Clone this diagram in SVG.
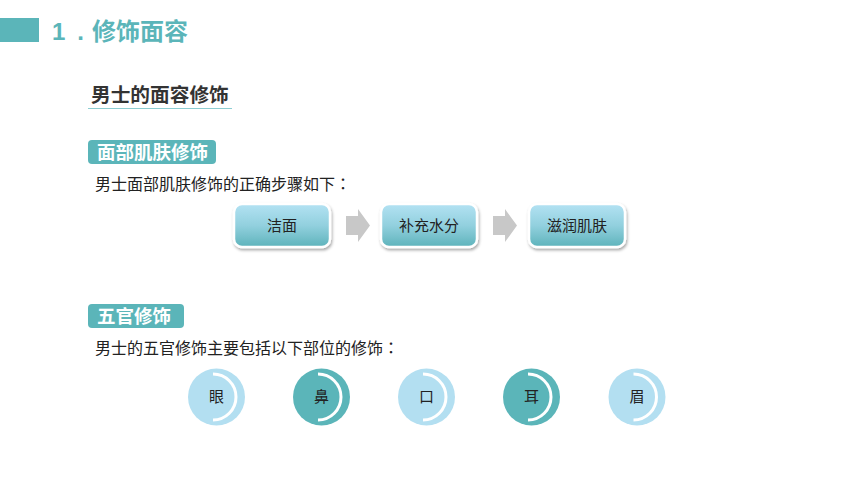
<svg xmlns="http://www.w3.org/2000/svg" width="860" height="484" viewBox="0 0 860 484">
<defs>
<style>
.cjk{font-family:"Liberation Sans","Noto Sans CJK SC",sans-serif}
.tc{font-family:"Noto Sans CJK TC",sans-serif}
.title{font-size:24px;font-weight:bold;fill:#5bb5b9}
.sub{font-size:19.7px;font-weight:bold;fill:#333}
.tag{fill:#5bb5b9}
.tagt{font-size:18.5px;font-weight:bold;fill:#fff}
.body{font-size:16px;fill:#222}
.box{fill:url(#g);stroke:#fff;stroke-width:2.5}
.bt{font-size:15px;fill:#222;text-anchor:middle}
.arrow{fill:#c8c8c8}
.cl{fill:#b3dff1}
.ct{fill:#5bb5b9}
.arc{fill:none;stroke:#fff;stroke-width:3}
.ctext{font-size:15px;fill:#222;text-anchor:middle}
</style>
<linearGradient id="g" x1="0" y1="0" x2="0" y2="1">
<stop offset="0" stop-color="#b3e2f3"/>
<stop offset="0.5" stop-color="#92d0de"/>
<stop offset="1" stop-color="#5eb3bb"/>
</linearGradient>
<filter id="sh" x="-20%" y="-20%" width="140%" height="150%">
<feDropShadow dx="1" dy="2" stdDeviation="1.5" flood-color="#000" flood-opacity="0.35"/>
</filter>
</defs>
<rect width="860" height="484" fill="#fff"/>
<g id="header">
<rect x="0" y="18" width="39" height="24" fill="#5bb5b9"/>
<text class="cjk title" x="52" y="40">1<tspan dx="12">.</tspan><tspan dx="8">修饰面容</tspan></text>
</g>
<g id="subtitle">
<text class="cjk sub" x="91" y="102">男士的面容修饰</text>
<line x1="88" y1="108.5" x2="232" y2="108.5" stroke="#8ccdd2" stroke-width="1.2"/>
</g>
<g id="tag1">
<rect class="tag" x="88" y="140" width="128" height="24" rx="4"/>
<text class="cjk tagt" x="97" y="159">面部肌肤修饰</text>
</g>
<text class="cjk body" x="95" y="190">男士面部肌肤修饰的正确步骤如下<tspan class="tc">：</tspan></text>
<g id="step1">
<rect class="box" x="234" y="204" width="96" height="43" rx="8" filter="url(#sh)"/>
<text class="cjk bt" x="282" y="231">洁面</text>
</g>
<g id="step2">
<rect class="box" x="381" y="204" width="96" height="43" rx="8" filter="url(#sh)"/>
<text class="cjk bt" x="429" y="231">补充水分</text>
</g>
<g id="step3">
<rect class="box" x="529" y="204" width="96" height="43" rx="8" filter="url(#sh)"/>
<text class="cjk bt" x="577" y="231">滋润肌肤</text>
</g>
<g id="connectors">
<polygon class="arrow" points="346,216 358,216 358,209 370,225.5 358,242 358,235 346,235"/>
<polygon class="arrow" points="493,216 505,216 505,209 517,225.5 505,242 505,235 493,235"/>
</g>
<g id="tag2">
<rect class="tag" x="88" y="304" width="96" height="24" rx="4"/>
<text class="cjk tagt" x="97" y="323">五官修饰</text>
</g>
<text class="cjk body" x="95" y="354">男士的五官修饰主要包括以下部位的修饰<tspan class="tc">：</tspan></text>
<g id="eye">
<circle class="cl" cx="216.5" cy="397" r="28.5"/>
<path class="arc" d="M213,374 A23,23 0 0 1 213,420"/>
<text class="cjk ctext" x="216.5" y="402">眼</text>
</g>
<g id="nose">
<circle class="ct" cx="321.5" cy="397" r="28.5"/>
<path class="arc" d="M318,374 A23,23 0 0 1 318,420"/>
<text class="cjk ctext" x="321.5" y="402">鼻</text>
</g>
<g id="mouth">
<circle class="cl" cx="426.5" cy="397" r="28.5"/>
<path class="arc" d="M423,374 A23,23 0 0 1 423,420"/>
<text class="cjk ctext" x="426.5" y="402">口</text>
</g>
<g id="ear">
<circle class="ct" cx="531.5" cy="397" r="28.5"/>
<path class="arc" d="M528,374 A23,23 0 0 1 528,420"/>
<text class="cjk ctext" x="531.5" y="402">耳</text>
</g>
<g id="brow">
<circle class="cl" cx="637" cy="397" r="28.5"/>
<path class="arc" d="M633.5,374 A23,23 0 0 1 633.5,420"/>
<text class="cjk ctext" x="637" y="402">眉</text>
</g>
</svg>
